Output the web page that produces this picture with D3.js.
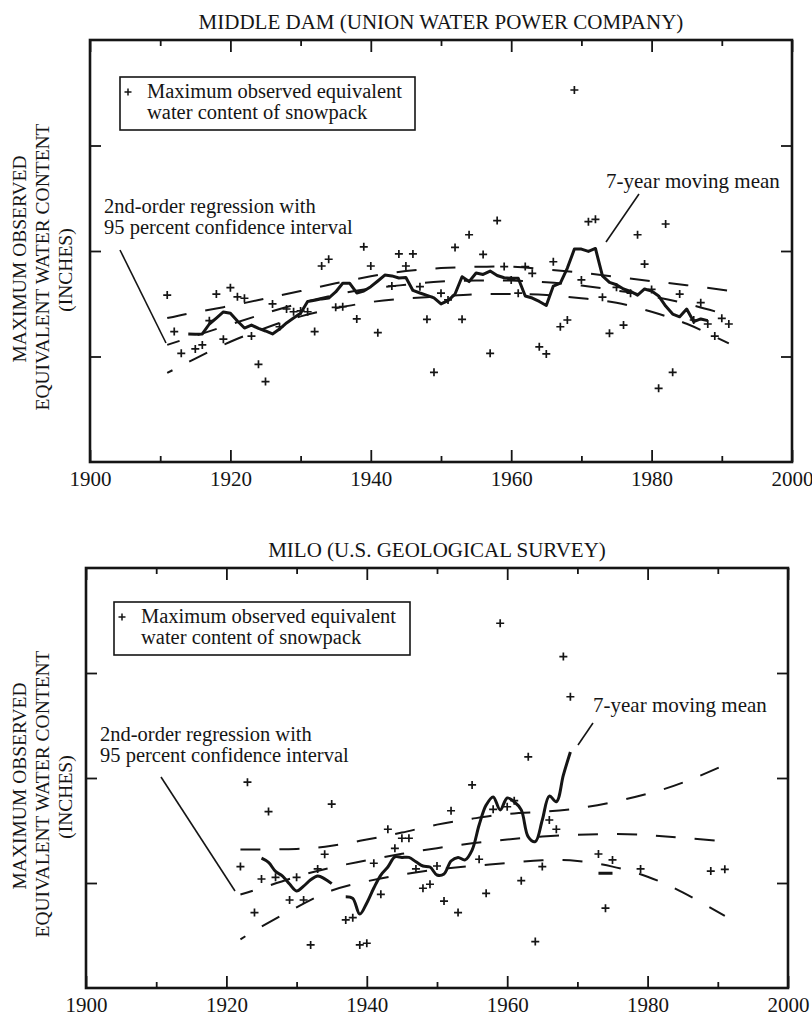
<!DOCTYPE html>
<html>
<head>
<meta charset="utf-8">
<script src="https://cdn.jsdelivr.net/npm/d3@7/dist/d3.min.js"></script>
<style>
body { margin: 0; background: #fff; }
text { font-family: "Liberation Serif", "Times New Roman", serif; fill: #151515; }
</style>
</head>
<body>
<svg id="fig" width="812" height="1025"></svg>
<script>
// Middle Dam (Union Water Power Co.) - yearly max snowpack water content, inches
var damYears = [1911,1912,1913,1915,1916,1917,1918,1919,1920,1921,1922,1923,1924,1925,1926,1927,1928,1929,1930,
  1931,1932,1933,1934,1935,1936,1938,1939,1940,1941,1943,1944,1945,1946,1947,1948,1949,1950,1951,1952,1953,1954,
  1956,1957,1958,1959,1960,1961,1962,1963,1964,1965,1966,1967,1968,1969,1970,1971,1972,1973,1974,1975,1976,1977,
  1978,1979,1980,1981,1982,1983,1984,1986,1987,1988,1989,1990,1991];
var damSnow = [7.91,6.18,5.15,5.36,5.55,6.70,7.96,5.82,8.26,7.83,7.76,5.97,4.63,3.81,7.49,6.41,7.25,7.12,7.16,
  7.12,6.18,9.29,9.61,7.33,7.36,6.78,10.20,9.29,6.13,8.34,9.86,9.29,9.86,8.31,6.76,4.25,8.00,7.68,10.17,6.76,10.77,
  9.84,5.15,11.44,9.26,8.63,8.00,9.26,8.94,5.46,5.12,9.49,6.41,6.73,17.63,8.63,11.39,11.50,7.81,6.10,8.28,6.49,8.00,
  10.77,9.38,8.18,3.49,11.28,4.25,7.96,6.73,7.55,6.54,5.97,6.81,6.54];

var damMeanYears = [1914,1915,1916,1917,1918,1919,1920,1921,1922,1923,1924,1925,1926,1927,1928,1929,1930,1931,1932,
  1933,1934,1935,1936,1937,1938,1939,1940,1941,1942,1943,1944,1945,1946,1947,1948,1949,1950,1951,1952,1953,1954,
  1955,1956,1957,1958,1959,1960,1961,1962,1963,1964,1965,1966,1967,1968,1969,1970,1971,1972,1973,1974,1975,1976,
  1977,1978,1979,1980,1981,1982,1983,1984,1985,1986,1987,1988];
var damMean = [6.07,6.06,6.07,6.54,6.82,7.11,7.05,6.68,6.35,6.49,6.33,6.21,6.07,6.30,6.59,6.82,7.05,7.61,7.66,
  7.73,7.77,8.06,8.47,8.47,8.01,8.10,8.31,8.58,8.86,8.82,8.72,8.74,8.13,8.01,7.90,7.78,7.49,7.65,7.96,8.78,8.55,
  8.96,8.89,9.05,8.84,8.73,8.71,8.71,7.87,7.77,7.61,7.42,8.34,8.48,9.19,10.09,10.09,9.98,10.12,8.82,8.51,8.40,8.20,
  8.09,7.91,8.20,8.10,7.87,7.39,7.01,6.88,7.25,6.65,6.78,6.70];

var damFitYears = [1911,1915,1920,1925,1930,1935,1940,1945,1950,1955,1960,1965,1970,1975,1980,1985,1991];
var damFit   = [5.55,5.98,6.52,7.05,7.53,7.93,8.22,8.40,8.55,8.60,8.60,8.52,8.36,8.13,7.85,7.50,6.95];
var damUpper = [6.82,7.10,7.40,7.75,8.10,8.47,8.80,9.05,9.19,9.25,9.26,9.13,8.97,8.77,8.57,8.38,8.12];
var damLower = [4.22,4.90,5.70,6.35,6.90,7.28,7.58,7.75,7.85,7.95,7.96,7.91,7.76,7.55,7.12,6.55,5.62];

// Milo (U.S. Geological Survey)
var miloYears = [1922,1923,1924,1925,1926,1927,1929,1930,1931,1932,1933,1934,1935,1937,1938,1939,1940,1941,1942,
  1943,1944,1945,1946,1947,1948,1949,1950,1951,1952,1953,1955,1956,1957,1958,1959,1960,1961,1962,1963,1964,1965,
  1966,1967,1968,1969,1973,1974,1975,1979,1989,1991];
var miloSnow = [5.78,9.80,3.59,5.19,8.40,5.27,4.19,5.27,4.19,2.05,5.67,6.37,8.76,3.24,3.35,2.05,2.13,5.94,4.46,
  7.56,6.65,7.13,7.13,5.67,4.75,4.94,5.81,4.14,8.44,3.59,9.67,6.13,4.51,8.51,17.37,8.63,8.92,5.11,11.01,2.21,5.78,
  8.00,7.56,15.78,13.87,6.38,3.80,6.10,5.67,5.57,5.65];

// null = gap in the moving mean
var miloMeanYears = [1925,1926,1927,1928,1929,1930,1931,1932,1933,1934,1935,1936,1937,1938,1939,1940,1941,1942,
  1943,1944,1945,1946,1947,1948,1949,1950,1951,1952,1953,1954,1955,1956,1957,1958,1959,1960,1961,1962,1963,1964,
  1965,1966,1967,1968,1969,1970,1971,1972,1973,1974,1975];
var miloMean = [6.18,5.98,5.55,5.33,4.95,4.62,4.85,5.15,5.33,5.20,4.97,null,4.35,4.27,3.52,4.05,4.76,5.38,
  5.76,6.24,6.22,6.22,6.01,5.81,5.76,5.38,5.43,6.05,6.22,6.10,6.57,7.76,8.71,9.10,8.48,9.05,8.87,8.48,7.20,6.97,
  8.00,9.14,8.87,10.14,11.24,null,null,null,5.46,5.46,5.46];

var miloFitYears = [1922,1925,1930,1935,1940,1945,1950,1955,1960,1965,1970,1975,1980,1985,1991];
var miloFit   = [4.45,4.76,5.30,5.74,6.08,6.39,6.66,6.89,7.07,7.21,7.30,7.33,7.28,7.15,6.98];
var miloUpper = [6.60,6.60,6.62,6.77,7.07,7.40,7.78,8.06,8.29,8.39,8.55,8.85,9.25,9.78,10.62];
var miloLower = [2.32,2.92,3.84,4.64,5.08,5.40,5.64,5.81,5.95,6.08,6.05,5.78,5.30,4.55,3.44];

var majorTicks = [1900,1920,1940,1960,1980,2000];
var minorTicks = [1910,1930,1950,1970,1990];
var yTicks = [5,10,15];
var yLabel = ["MAXIMUM OBSERVED","EQUIVALENT WATER CONTENT","(INCHES)"];

var INK = "#151515";
var svg = d3.select("#fig");

function zip(xs, ys){
  return xs.map(function(v,i){ return {yr: v, val: ys[i]}; });
}

function drawPanel(p){
  var x = d3.scaleLinear().domain([1900,2000]).range([p.left,p.right]);
  var y = d3.scaleLinear().domain([0,20]).range([p.bottom,p.top]);
  var g = svg.append("g");

  g.append("text")
    .attr("x", p.titleX).attr("y", p.top - 11)
    .attr("text-anchor","middle")
    .attr("font-size", 21)
    .text(p.title);

  // y label, three rotated lines
  var lx = [19, 42, 65], ly = [-8, 0, 3];
  yLabel.forEach(function(s,i){
    g.append("text")
      .attr("transform","translate(" + lx[i] + "," + ((p.top+p.bottom)/2 + 16 + ly[i]) + ") rotate(-90)")
      .attr("text-anchor","middle")
      .attr("dominant-baseline","central")
      .attr("font-size", 19.5)
      .text(s);
  });

  // axes, ticks pointing inward
  var axes = [
    [d3.axisBottom(x).tickValues(majorTicks).tickSize(-12).tickPadding(9).tickFormat(d3.format("d")), p.bottom],
    [d3.axisBottom(x).tickValues(minorTicks).tickSize(-6).tickFormat(""), p.bottom],
    [d3.axisTop(x).tickValues(majorTicks).tickSize(-12).tickFormat(""), p.top],
    [d3.axisTop(x).tickValues(minorTicks).tickSize(-6).tickFormat(""), p.top]
  ];
  axes.forEach(function(a){
    var ax = g.append("g").attr("transform","translate(0," + a[1] + ")").call(a[0]);
    ax.select(".domain").remove();
    ax.selectAll("line").attr("stroke",INK).attr("stroke-width",1.8);
    ax.selectAll("text").attr("font-size",21).attr("fill",INK)
      .attr("font-family",'"Liberation Serif","Times New Roman",serif');
  });
  [[d3.axisLeft(y), p.left],[d3.axisRight(y), p.right]].forEach(function(a){
    var ax = g.append("g").attr("transform","translate(" + a[1] + ",0)")
      .call(a[0].tickValues(yTicks).tickSize(-11).tickFormat(""));
    ax.select(".domain").remove();
    ax.selectAll("line").attr("stroke",INK).attr("stroke-width",1.8);
  });

  g.append("rect")
    .attr("x",p.left).attr("y",p.top)
    .attr("width",p.right-p.left).attr("height",p.bottom-p.top)
    .attr("fill","none").attr("stroke",INK).attr("stroke-width",2.6);

  // regression + confidence band (dashed)
  var curve = d3.line()
    .x(function(d){ return x(d.yr); })
    .y(function(d){ return y(d.val); })
    .curve(d3.curveNatural);
  [p.upper, p.fit, p.lower].forEach(function(s,i){
    g.append("path")
      .attr("d", curve(zip(p.fitYears, s)))
      .attr("fill","none").attr("stroke",INK).attr("stroke-width",2)
      .attr("stroke-dasharray","20,19")
      .attr("stroke-dashoffset", i*7);
  });

  // 7-year moving mean
  var meanLine = d3.line()
    .defined(function(d){ return d.val !== null; })
    .x(function(d){ return x(d.yr); })
    .y(function(d){ return y(d.val); })
    .curve(p.meanCurve);
  g.append("path")
    .attr("d", meanLine(zip(p.meanYears, p.mean)))
    .attr("fill","none").attr("stroke",INK).attr("stroke-width",3)
    .attr("stroke-linejoin","round");

  // observations as + marks
  g.selectAll(".obs").data(zip(p.years, p.snow)).enter().append("path")
    .attr("class","obs")
    .attr("transform",function(d){ return "translate(" + x(d.yr) + "," + y(d.val) + ")"; })
    .attr("d","M-4,0H4M0,-4V4")
    .attr("stroke",INK).attr("stroke-width",1.7);

  // legend
  var lg = p.legend;
  g.append("rect").attr("x",lg.x).attr("y",lg.y).attr("width",lg.w).attr("height",lg.h)
    .attr("fill","#fff").attr("stroke",INK).attr("stroke-width",1.6);
  g.append("path").attr("transform","translate(" + (lg.x+8) + "," + (lg.y+15) + ")")
    .attr("d","M-3.5,0H3.5M0,-3.5V3.5").attr("stroke",INK).attr("stroke-width",1.5);
  g.append("text").attr("x",lg.x+27).attr("y",lg.y+21).attr("font-size",20.5)
    .text("Maximum observed equivalent");
  g.append("text").attr("x",lg.x+27).attr("y",lg.y+42).attr("font-size",20.5)
    .text("water content of snowpack");

  // annotations
  var r = p.regNote;
  g.append("text").attr("x",r.x).attr("y",r.y).attr("font-size",20.5).text("2nd-order regression with");
  g.append("text").attr("x",r.x).attr("y",r.y+21).attr("font-size",20.5).text("95 percent confidence interval");
  g.append("line").attr("x1",r.lx1).attr("y1",r.ly1).attr("x2",r.lx2).attr("y2",r.ly2)
    .attr("stroke",INK).attr("stroke-width",1.6);

  var m = p.meanNote;
  g.append("text").attr("x",m.x).attr("y",m.y).attr("font-size",21).text("7-year moving mean");
  g.append("line").attr("x1",m.lx1).attr("y1",m.ly1).attr("x2",m.lx2).attr("y2",m.ly2)
    .attr("stroke",INK).attr("stroke-width",1.6);
}

drawPanel({
  title: "MIDDLE DAM (UNION WATER POWER COMPANY)", titleX: 441,
  left: 90, right: 792, top: 40, bottom: 462,
  years: damYears, snow: damSnow,
  meanYears: damMeanYears, mean: damMean, meanCurve: d3.curveLinear,
  fitYears: damFitYears, fit: damFit, upper: damUpper, lower: damLower,
  legend: {x: 120, y: 77, w: 295, h: 53},
  regNote: {x: 104, y: 213, lx1: 120, ly1: 250, lx2: 166, ly2: 343},
  meanNote: {x: 606, y: 188, lx1: 639, ly1: 194, lx2: 606, ly2: 242}
});

drawPanel({
  title: "MILO (U.S. GEOLOGICAL SURVEY)", titleX: 437,
  left: 86, right: 788, top: 568, bottom: 988,
  years: miloYears, snow: miloSnow,
  meanYears: miloMeanYears, mean: miloMean, meanCurve: d3.curveCatmullRom,
  fitYears: miloFitYears, fit: miloFit, upper: miloUpper, lower: miloLower,
  legend: {x: 114, y: 602, w: 296, h: 53},
  regNote: {x: 100, y: 741, lx1: 161, ly1: 777, lx2: 235, ly2: 891},
  meanNote: {x: 593, y: 712, lx1: 593, ly1: 723, lx2: 578, ly2: 745}
});
</script>
</body>
</html>
